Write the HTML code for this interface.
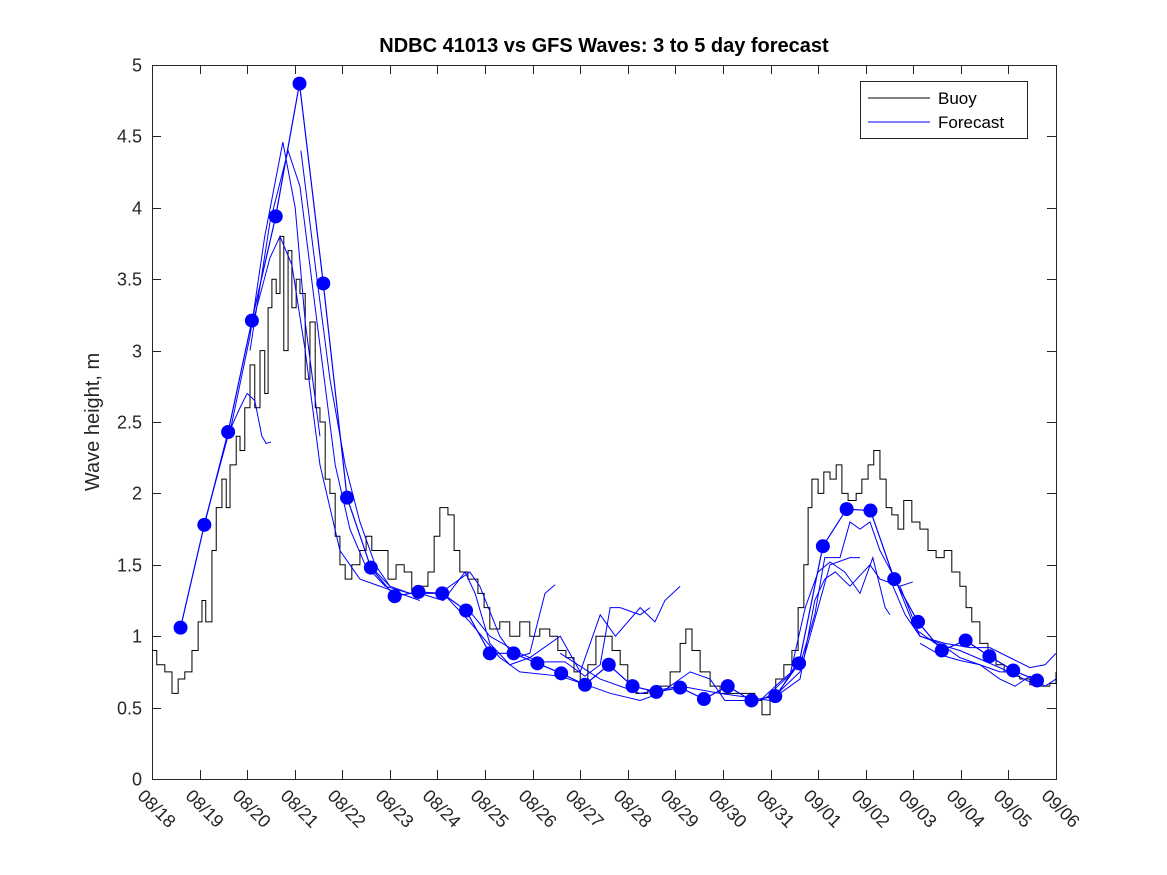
<!DOCTYPE html>
<html><head><meta charset="utf-8"><style>
body{margin:0;background:#fff;}
svg{display:block;font-family:"Liberation Sans",sans-serif;}
</style></head><body>
<svg id="chart" width="1167" height="875" viewBox="0 0 1167 875" xmlns="http://www.w3.org/2000/svg">
<rect width="1167" height="875" fill="#fff"/>
<text x="604" y="52" text-anchor="middle" font-size="20" font-weight="bold" fill="#000">NDBC 41013 vs GFS Waves: 3 to 5 day forecast</text>
<text transform="translate(99,422) rotate(-90)" text-anchor="middle" font-size="20" fill="#262626">Wave height, m</text>
<g id="axes"></g>
<g id="marks"></g>
<g>
<rect x="860.5" y="81.5" width="167" height="57" fill="#fff" stroke="#262626" stroke-width="1"/>
<line x1="868" y1="98" x2="930" y2="98" stroke="#000"/>
<text x="938" y="104" font-size="17" fill="#000">Buoy</text>
<line x1="868" y1="122" x2="930" y2="122" stroke="#0000ff"/>
<text x="938" y="128" font-size="17" fill="#000">Forecast</text>
</g>
</svg>
<script>
const xTickLabels=["08/18","08/19","08/20","08/21","08/22","08/23","08/24","08/25","08/26","08/27","08/28","08/29","08/30","08/31","09/01","09/02","09/03","09/04","09/05","09/06"];
const yTickValues=[0,0.5,1,1.5,2,2.5,3,3.5,4,4.5,5];
const yTickLabels=["0","0.5","1","1.5","2","2.5","3","3.5","4","4.5","5"];
const buoyDays=[0,0.1,0.27,0.42,0.55,0.69,0.84,0.97,1.05,1.13,1.26,1.35,1.47,1.56,1.64,1.77,1.85,1.95,2.06,2.16,2.27,2.37,2.44,2.52,2.61,2.69,2.77,2.86,2.94,3.03,3.11,3.22,3.32,3.43,3.53,3.64,3.74,3.85,3.95,4.06,4.2,4.37,4.5,4.62,4.79,4.96,5.13,5.3,5.46,5.63,5.8,5.93,6.05,6.22,6.35,6.47,6.64,6.85,6.98,7.1,7.31,7.52,7.73,7.94,8.15,8.36,8.53,8.7,8.87,9,9.16,9.33,9.5,9.67,9.84,10,10.17,10.42,10.68,10.89,11.1,11.22,11.35,11.52,11.73,11.94,12.36,12.67,12.82,12.99,13.11,13.28,13.45,13.58,13.7,13.79,13.87,14,14.12,14.25,14.38,14.5,14.63,14.8,14.92,15.05,15.17,15.3,15.43,15.55,15.68,15.8,15.97,16.14,16.31,16.48,16.65,16.81,16.98,17.11,17.23,17.4,17.57,17.74,17.91,18.07,18.24,18.45,18.66,18.87,19];
const buoyWave=[0.9,0.8,0.75,0.6,0.7,0.75,0.9,1.1,1.25,1.1,1.6,1.9,2.1,1.9,2.2,2.4,2.3,2.6,2.9,2.6,3.0,2.7,3.3,3.5,3.4,3.8,3.0,3.7,3.3,3.5,3.4,2.8,3.2,2.6,2.5,2.1,2.0,1.7,1.5,1.4,1.5,1.6,1.7,1.6,1.6,1.4,1.5,1.45,1.3,1.35,1.45,1.7,1.9,1.85,1.6,1.45,1.4,1.3,1.2,1.05,1.1,1.0,1.1,1.0,1.05,1.0,0.9,0.85,0.75,0.65,0.8,1.0,1.0,0.9,0.8,0.65,0.6,0.62,0.65,0.75,0.95,1.05,0.9,0.75,0.65,0.6,0.6,0.55,0.45,0.55,0.7,0.8,0.9,1.2,1.5,1.9,2.1,2.0,2.15,2.1,2.2,2.0,1.95,2.0,2.1,2.2,2.3,2.1,1.9,1.85,1.75,1.95,1.8,1.75,1.6,1.55,1.6,1.45,1.35,1.2,1.1,0.95,0.85,0.8,0.75,0.72,0.7,0.66,0.65,0.67,0.75];
const dotDays=[0.6,1.1,1.6,2.1,2.6,3.1,3.6,4.1,4.6,5.1,5.6,6.1,6.6,7.1,7.6,8.1,8.6,9.1,9.6,10.1,10.6,11.1,11.6,12.1,12.6,13.1,13.6,14.1,14.6,15.1,15.6,16.1,16.6,17.1,17.6,18.1,18.6];
const dotWave=[1.06,1.78,2.43,3.21,3.94,4.87,3.47,1.97,1.48,1.28,1.31,1.30,1.18,0.88,0.88,0.81,0.74,0.66,0.80,0.65,0.61,0.64,0.56,0.65,0.55,0.58,0.81,1.63,1.89,1.88,1.40,1.10,0.90,0.97,0.86,0.76,0.69];
const fcDays1=[1.11,1.62,1.85,2.0,2.16,2.31,2.4,2.5];
const fcWave1=[1.8,2.43,2.6,2.7,2.65,2.4,2.35,2.36];
const fcDays2=[1.62,2.06,2.37,2.75,3.01,3.22,3.53];
const fcWave2=[2.4,3.1,3.8,4.46,4.0,3.2,2.4];
const fcDays3=[2.06,2.48,2.86,3.11,3.43,3.85,4.16,4.48,4.9,5.42];
const fcWave3=[3.0,3.9,4.4,4.15,3.3,2.2,1.75,1.5,1.35,1.3];
const fcDays4=[2.12,2.48,2.69,2.94,3.22,3.53,3.95,4.37,4.79,5.21,5.63];
const fcWave4=[3.2,3.65,3.8,3.6,3.0,2.2,1.6,1.4,1.35,1.3,1.25];
const fcDays5=[3.13,3.43,3.74,4.06,4.37,4.69,5.0];
const fcWave5=[4.4,3.6,2.8,2.2,1.8,1.5,1.35];
const fcDays6=[4.62,5.0,5.42,6.05,6.68,6.89,7.31,7.63,7.94,8.26,8.47];
const fcWave6=[1.48,1.35,1.3,1.3,1.45,1.35,1.0,0.85,0.88,1.3,1.36];
const fcDays7=[5.63,6.12,6.58,6.79,7.1,7.52,7.94,8.58,9.0,9.42,9.74,10.26,10.57,10.78,11.1];
const fcWave7=[1.3,1.25,1.45,1.3,0.95,0.8,0.85,1.0,0.75,1.15,1.0,1.2,1.1,1.25,1.35];
const fcDays8=[6.62,7.1,7.73,8.15,8.68,9.1,9.42,9.63,9.84,10.26,10.47];
const fcWave8=[1.2,1.0,0.88,0.82,0.82,0.72,0.8,1.2,1.2,1.15,1.2];
const fcDays9=[6.12,6.68,7.31,7.73,8.58,9.21,9.63,10.26,10.68,11.31,11.73,12.04,12.78,13.2,13.62];
const fcWave9=[1.3,1.1,0.85,0.75,0.72,0.65,0.6,0.55,0.6,0.75,0.7,0.55,0.55,0.62,0.85];
const fcDays10=[8.58,9.42,10.26,11.1,11.94,12.99,13.62,14.25,14.67,14.88];
const fcWave10=[0.88,0.7,0.6,0.65,0.6,0.55,0.75,1.5,1.55,1.55];
const fcDays11=[12.78,13.2,13.62,13.93,14.14,14.46,14.67,14.88,15.09,15.3,15.62,16.04,16.46,16.98,17.82,18.45];
const fcWave11=[0.55,0.68,0.8,1.15,1.55,1.55,1.8,1.75,1.8,1.6,1.4,1.05,0.95,0.9,0.78,0.68];
const fcDays12=[12.99,13.41,13.73,14.0,14.25,14.56,14.88,15.15,15.41,15.51];
const fcWave12=[0.6,0.73,1.2,1.45,1.52,1.45,1.3,1.55,1.2,1.15];
const fcDays13=[13.2,13.62,13.93,14.14,14.36,14.67,15.09,15.3,15.72,15.99];
const fcWave13=[0.6,0.7,1.25,1.4,1.45,1.35,1.5,1.4,1.35,1.38];
const fcDays14=[15.51,15.83,16.14,16.56,16.98,17.4,17.82,18.03];
const fcWave14=[1.4,1.15,1.0,0.95,0.85,0.8,0.75,0.75];
const fcDays15=[15.72,16.14,16.67,17.19,17.61,18.03,18.45,18.77,19.0];
const fcWave15=[1.35,1.0,0.95,0.92,0.92,0.85,0.78,0.8,0.88];
const fcDays16=[16.14,16.56,16.98,17.4,17.82,18.14,18.45,18.77,19.0];
const fcWave16=[0.95,0.87,0.83,0.8,0.7,0.65,0.72,0.65,0.7];

const L=152,R=1056,T=65,B=779,D0=0,D1=19,V0=0,V1=5;
const xs=d=>L+(d-D0)/(D1-D0)*(R-L);
const ys=v=>B-(v-V0)/(V1-V0)*(B-T);
const NS="http://www.w3.org/2000/svg";
function mk(tag,attrs,parent){const e=document.createElementNS(NS,tag);for(const k in attrs)e.setAttribute(k,attrs[k]);parent.appendChild(e);return e;}
const axes=document.getElementById('axes'),marks=document.getElementById('marks');

const frame=mk('rect',{x:L+0.5,y:T+0.5,width:R-L,height:B-T,fill:'none',stroke:'#262626','stroke-width':1},axes);


xTickLabels.forEach((lab,i)=>{
  const x=Math.round(xs(i))+0.5;
  const t1=mk('line',{x1:x,y1:B,x2:x,y2:B-9,stroke:'#262626'},axes);
  
  
  const t2=mk('line',{x1:x,y1:T,x2:x,y2:T+9,stroke:'#262626'},axes);
  
  
  const tx=mk('text',{transform:`translate(${x-16},${B+18}) rotate(45)`,'font-size':18,fill:'#262626'},axes);
  tx.textContent=lab;
  
  
});
yTickValues.forEach((v,i)=>{
  const y=Math.round(ys(v))+0.5;
  const t1=mk('line',{x1:L,y1:y,x2:L+9,y2:y,stroke:'#262626'},axes);
  
  
  const t2=mk('line',{x1:R,y1:y,x2:R-9,y2:y,stroke:'#262626'},axes);
  
  
  const tx=mk('text',{x:L-10,y:y+6,'text-anchor':'end','font-size':18,fill:'#262626'},axes);
  tx.textContent=yTickLabels[i];
  
  
});

// buoy stairs
let p='';
buoyDays.forEach((d,i)=>{
  const x=xs(d),y=ys(buoyWave[i]);
  if(i===0)p+=`M${x},${y}`;else p+=`H${x}V${y}`;
});
const bl=mk('path',{d:p,fill:'none',stroke:'#000','stroke-width':1},marks);



const fcs=[[fcDays1,fcWave1],[fcDays2,fcWave2],[fcDays3,fcWave3],[fcDays4,fcWave4],[fcDays5,fcWave5],[fcDays6,fcWave6],[fcDays7,fcWave7],[fcDays8,fcWave8],[fcDays9,fcWave9],[fcDays10,fcWave10],[fcDays11,fcWave11],[fcDays12,fcWave12],[fcDays13,fcWave13],[fcDays14,fcWave14],[fcDays15,fcWave15],[fcDays16,fcWave16]];
fcs.forEach(([dd,vv])=>{
  const pts=dd.map((d,i)=>xs(d)+','+ys(vv[i])).join(' ');
  const pl=mk('polyline',{points:pts,fill:'none',stroke:'#0000ff','stroke-width':1},marks);
  
  
});
const dl=mk('polyline',{points:dotDays.map((d,i)=>xs(d)+','+ys(dotWave[i])).join(' '),fill:'none',stroke:'#0000ff','stroke-width':1.2},marks);


dotDays.forEach((d,i)=>{
  const c=mk('circle',{cx:xs(d),cy:ys(dotWave[i]),r:7,fill:'#0000ff'},marks);
  
  
});
</script>
</body></html>
